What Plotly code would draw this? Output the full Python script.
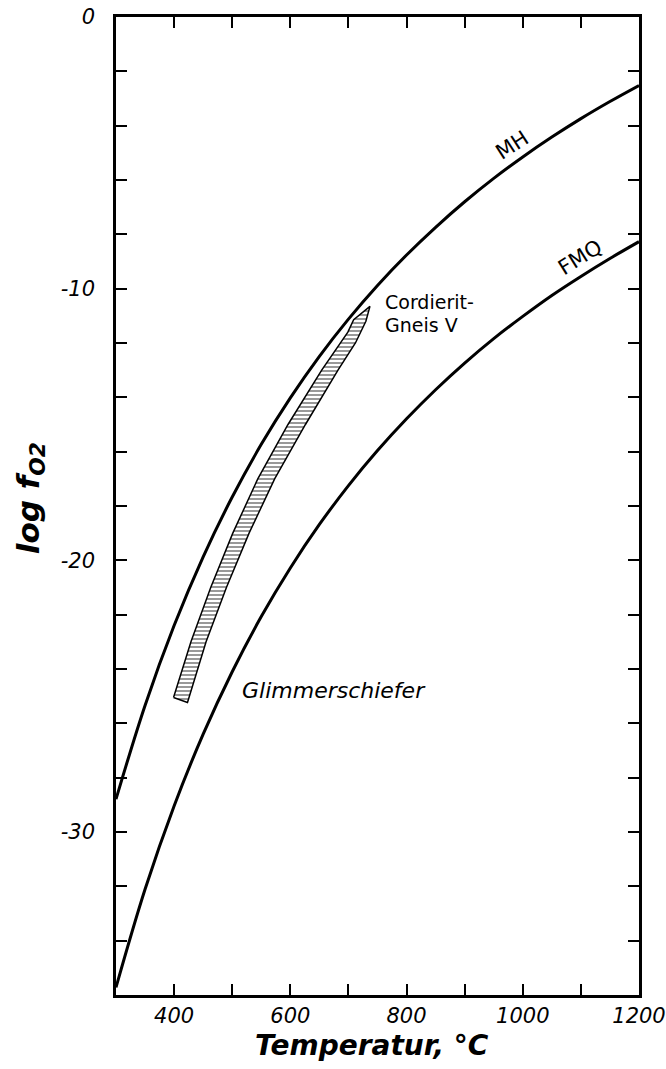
import plotly.graph_objects as go

# Temperatures (°C) at which the buffer curves were read
temp_c = [300, 350, 400, 450, 500, 550, 600, 650, 700, 750, 800, 850, 900, 950, 1000, 1050, 1100, 1150, 1200]
# MH buffer (log fO2)
mh = [-28.79, -25.34, -22.40, -19.87, -17.67, -15.73, -14.02, -12.49, -11.12, -9.88, -8.76, -7.74, -6.80, -5.94, -5.15, -4.42, -3.74, -3.11, -2.52]
# FMQ buffer (log fO2)
fmq = [-35.72, -32.11, -29.04, -26.40, -24.10, -22.07, -20.28, -18.68, -17.25, -15.96, -14.79, -13.72, -12.74, -11.84, -11.02, -10.25, -9.55, -8.89, -8.27]

# Cordierit-Gneis V field (outline, going up the left edge and down the right edge)
band_t = [399, 429, 463, 501, 544, 596, 654, 699, 709, 737, 730, 712, 682, 626, 573, 529, 490, 455, 423, 399]
band_y = [-25.05, -23.0, -21.0, -19.0, -17.0, -15.0, -13.0, -11.6, -11.14, -10.65, -11.2, -12.0, -13.0, -15.0, -17.0, -19.0, -21.0, -23.0, -25.23, -25.05]

x_major = [400, 600, 800, 1000, 1200]
x_major_text = ["400", "600", "800", "1000", "1200"]
x_minor = [300, 500, 700, 900, 1100]
y_major = [-30, -20, -10, 0]
y_major_text = ["-30", "-20", "-10", "0"]
y_minor = [-34, -32, -28, -26, -24, -22, -18, -16, -14, -12, -8, -6, -4, -2]

FONT = "DejaVu Sans"

fig = go.Figure()
fig.add_trace(go.Scatter(x=temp_c, y=mh, mode="lines", line=dict(color="black", width=3, shape="spline"),
                         showlegend=False, hoverinfo="skip"))
fig.add_trace(go.Scatter(x=temp_c, y=fmq, mode="lines", line=dict(color="black", width=3, shape="spline"),
                         showlegend=False, hoverinfo="skip"))
fig.add_trace(go.Scatter(x=band_t, y=band_y, mode="lines", fill="toself",
                         fillcolor="white",
                         fillpattern=dict(shape="-", size=4, solidity=0.4, fgcolor="black", bgcolor="white"),
                         line=dict(color="black", width=1.5), showlegend=False, hoverinfo="skip"))

ann_font = dict(family=FONT, color="black")
fig.add_annotation(x=982, y=-4.7, text="MH", showarrow=False, textangle=-33,
                   font=dict(size=21, **ann_font))
fig.add_annotation(x=1100, y=-8.85, text="FMQ", showarrow=False, textangle=-32,
                   font=dict(size=21, **ann_font))
fig.add_annotation(x=759, y=-10.48, text="Cordierit-", showarrow=False, xanchor="left",
                   font=dict(size=19, **ann_font))
fig.add_annotation(x=759, y=-11.32, text="Gneis V", showarrow=False, xanchor="left",
                   font=dict(size=19, **ann_font))
fig.add_annotation(x=513, y=-24.8, text="Glimmerschiefer", showarrow=False, xanchor="left",
                   font=dict(size=22, style="italic", **ann_font))

# axis titles
fig.add_annotation(xref="paper", yref="paper", x=0.49, y=0, yshift=-50, yanchor="middle",
                   text="Temperatur, °C", showarrow=False,
                   font=dict(family=FONT, size=28, color="black", weight="bold", style="italic"))
fig.add_annotation(xref="paper", yref="paper", x=0, xshift=-86, y=0.508, xanchor="center", yanchor="middle",
                   text="log f<sub>O2</sub>", showarrow=False, textangle=-90,
                   font=dict(family=FONT, size=31, color="black", weight="bold", style="italic"))

axis_common = dict(showgrid=False, zeroline=False, showline=True, linecolor="black", linewidth=2.5,
                   mirror="allticks", ticks="inside", ticklen=11, tickwidth=2, tickcolor="black",
                   automargin=False,
                   tickfont=dict(family=FONT, size=21, color="black", style="italic"))
fig.update_xaxes(range=[300, 1200], tickmode="array", tickvals=x_major, ticktext=x_major_text,
                 minor=dict(tickmode="array", tickvals=x_minor, ticks="inside", ticklen=11,
                            tickwidth=2, tickcolor="black", showgrid=False),
                 ticklabelstandoff=0, **axis_common)
fig.update_yaxes(range=[-36, 0], tickmode="array", tickvals=y_major, ticktext=y_major_text,
                 minor=dict(tickmode="array", tickvals=y_minor, ticks="inside", ticklen=11,
                            tickwidth=2, tickcolor="black", showgrid=False),
                 ticklabelstandoff=14, **axis_common)

fig.update_layout(width=666, height=1069, margin=dict(l=116, r=27, t=17, b=74),
                  plot_bgcolor="white", paper_bgcolor="white")
fig.write_html("out.html", config={"displayModeBar": False},
               post_script="document.body.style.margin='0';document.body.style.overflow='hidden';")
